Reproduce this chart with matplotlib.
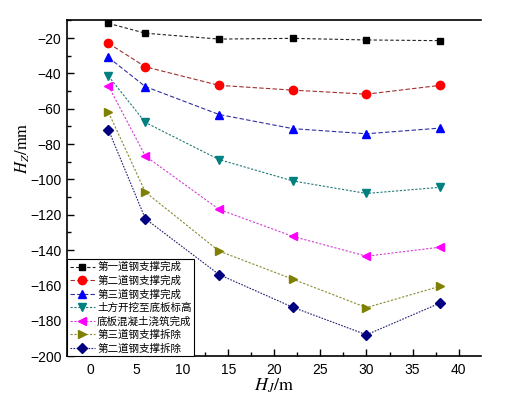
import matplotlib
matplotlib.use("Agg")
import matplotlib.pyplot as plt
from matplotlib.ticker import MultipleLocator

plt.rcParams['font.family'] = ['Liberation Sans', 'Noto Sans CJK SC', 'DejaVu Sans']
plt.rcParams['mathtext.fontset'] = 'stix'

x = [2, 6, 14, 22, 30, 38]
labels = ['第一道钢支撑完成', '第二道钢支撑完成', '第三道钢支撑完成', '土方开挖至底板标高',
          '底板混凝土浇筑完成', '第三道钢支撑拆除', '第二道钢支撑拆除']
s1 = [-11.7, -17.3, -20.6, -20.2, -21.1, -21.5]
s2 = [-23.0, -36.3, -46.8, -49.5, -51.8, -46.8]
s3 = [-31.0, -47.5, -63.3, -71.3, -74.2, -71.0]
s4 = [-41.6, -67.8, -88.8, -100.9, -108.0, -104.5]
s5 = [-47.2, -86.8, -117.0, -132.3, -143.5, -138.4]
s6 = [-62.1, -107.2, -140.6, -156.5, -172.6, -160.5]
s7 = [-72.0, -122.3, -153.9, -172.4, -188.0, -170.0]
series = [s1, s2, s3, s4, s5, s6, s7]
colors = ['#000000', '#FF0000', '#0000FF', '#008080', '#FF00FF', '#808000', '#000080']
line_colors = ['#222222', '#A03030', '#3030A0', '#207878', '#D040D0', '#8A8A30', '#202070']
markers = ['s', 'o', '^', 'v', '<', '>', 'D']
msizes = [5, 6, 6, 6, 6, 6, 5]
dashes = [(0, (3, 2)), (0, (4, 2)), (0, (4, 2)), (0, (2, 1.5)), (0, (2, 1.5)), (0, (2, 1.5)), (0, (1.5, 1.2))]

fig = plt.figure(figsize=(5.24, 4.13), dpi=100)
ax = fig.add_axes([0.1279, 0.138, 0.7895, 0.8136])

for i, s in enumerate(series):
    ax.plot(x, s, color=line_colors[i], linestyle=dashes[i], linewidth=0.8,
            marker=markers[i], markersize=msizes[i], markerfacecolor=colors[i],
            markeredgecolor=colors[i], label=labels[i])

ax.set_xlim(-2.5, 42.4)
ax.set_ylim(-200, -9.8)
ax.xaxis.set_major_locator(MultipleLocator(5))
ax.xaxis.set_minor_locator(MultipleLocator(2.5))
ax.yaxis.set_major_locator(MultipleLocator(20))
ax.yaxis.set_minor_locator(MultipleLocator(10))
ax.tick_params(which='major', direction='in', length=5, width=1, labelsize=10)
ax.tick_params(which='minor', direction='in', length=3, width=1)
ax.tick_params(axis='x', pad=5)
ax.tick_params(axis='y', pad=4)
ax.spines['right'].set_visible(False)
for sp in ['left', 'bottom', 'top']:
    ax.spines[sp].set_linewidth(1.2)

ax.set_xlabel(r'$H_J/\mathrm{m}$', fontsize=13, labelpad=0)
ax.set_ylabel(r'$H_Z/\mathrm{mm}$', fontsize=12)
ax.yaxis.set_label_coords(-0.085, 0.62)

leg = ax.legend(loc='lower left', bbox_to_anchor=(0, 0), borderaxespad=0,
                prop={'family': ['Noto Sans CJK SC', 'DejaVu Sans'], 'size': 7.6},
                frameon=True, fancybox=False, edgecolor='black', framealpha=1,
                handlelength=2.4, handletextpad=0.2, labelspacing=0.3,
                borderpad=0.25)
leg.get_frame().set_linewidth(0.8)

fig.savefig('out.png', dpi=100)
